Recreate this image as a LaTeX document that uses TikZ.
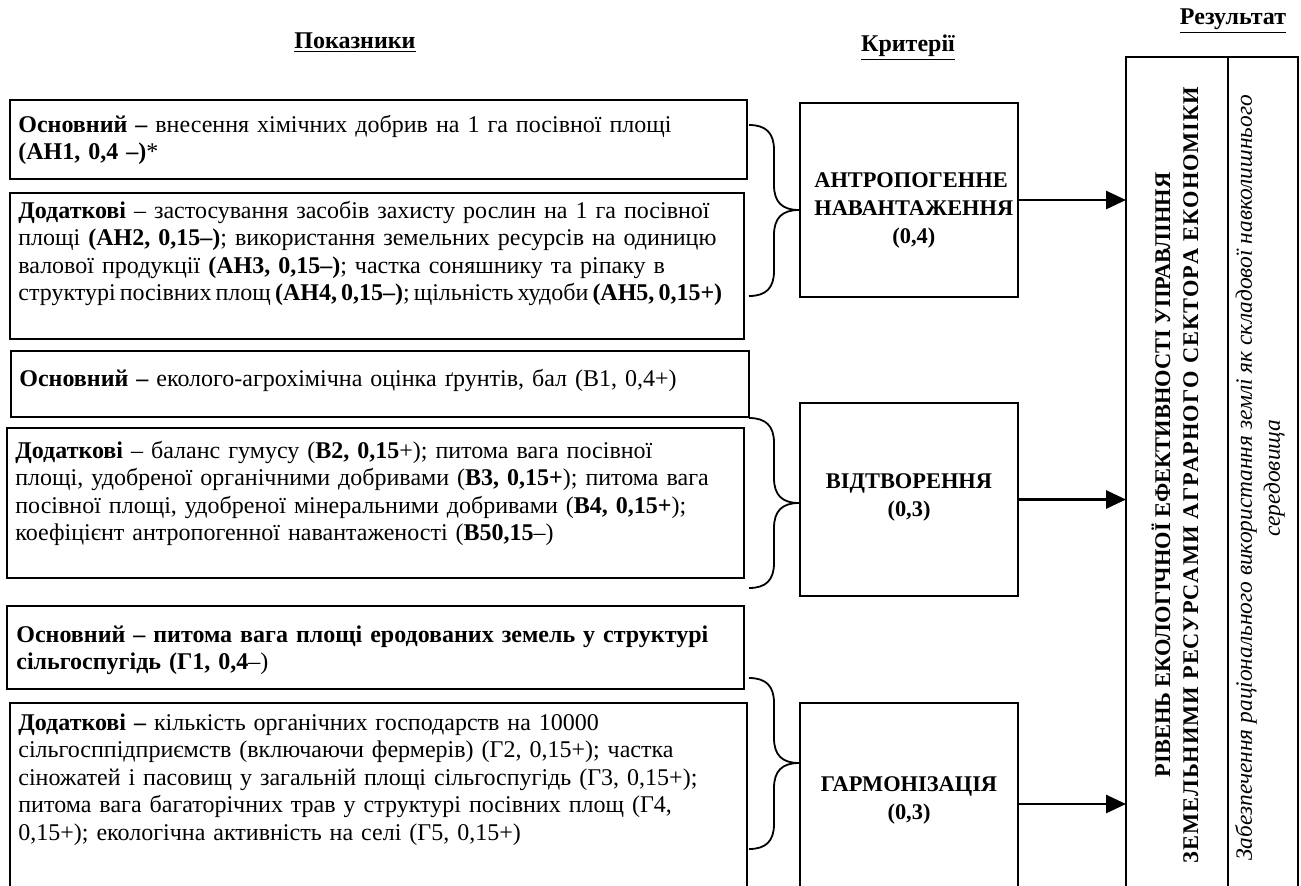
\documentclass[tikz,border=0pt]{standalone}
\usepackage{fontspec}
\setmainfont{Liberation Serif}
\usetikzlibrary{arrows.meta,calc}
\begin{document}
\begin{tikzpicture}[x=0.5pt,y=-0.5pt,
  box/.style={draw, line width=0.8pt, inner sep=0pt, outer sep=0pt, anchor=north west},
  txt/.style={anchor=base west, inner sep=0pt, align=left, text width=370pt, font=\fontsize{12}{13.75}\selectfont},
  crit/.style={draw, line width=0.8pt, inner sep=0pt, outer sep=0pt, anchor=north west, minimum width=109pt},
  critlbl/.style={inner sep=0pt, align=center, font=\fontsize{11.2}{14}\selectfont\bfseries},
  hdr/.style={anchor=base, inner sep=0pt, font=\fontsize{12}{14}\selectfont\bfseries},
  brc/.style={line width=0.9pt},
  arr/.style={line width=1.4pt, -{Triangle[length=10pt,width=9pt]}},
  vtxt/.style={rotate=90, inner sep=0pt, align=center, font=\fontsize{12}{14}\selectfont}
]
\useasboundingbox (0,0) rectangle (1301,885);
\clip (0,0) rectangle (1301,885);

% headers
\node[hdr] (h1) at (355,48) {\underline{Показники}};
\node[hdr] (h2) at (908,51) {\underline{Критерії}};
\node[hdr] (h3) at (1233,24) {\underline{Результат}};

% left boxes
\node[box, minimum width=368.5pt, minimum height=39.5pt] (a1) at (10,100) {};
\node[box, minimum width=367pt, minimum height=73pt] (a2) at (10,193) {};
\node[box, minimum width=369pt, minimum height=33pt] (b1) at (11,351) {};
\node[box, minimum width=368.5pt, minimum height=75pt] (b2) at (7,428) {};
\node[box, minimum width=368.5pt, minimum height=41.5pt] (g1) at (7,606) {};
\node[box, minimum width=368.5pt, minimum height=101pt] (g2) at (10,703) {};

\node[txt] (a1t) at (18,132) {\textbf{Основний –} внесення хімічних добрив на 1 га посівної площі\\
\textbf{(АН1, 0,4 –)}*};
\node[txt] (a2t) at (18,218) {\textbf{Додаткові} – застосування засобів захисту рослин на 1 га посівної\\
площі \textbf{(АН2, 0,15–)}; використання земельних ресурсів на одиницю\\
валової продукції \textbf{(АН3, 0,15–)}; частка соняшнику та ріпаку в\\
{\spaceskip=0.17em plus 0.1em minus 0.05em структурі посівних площ \textbf{(АН4, 0,15–)}; щільність худоби \textbf{(АН5, 0,15+)}}};
\node[txt] (b1t) at (19,386) {\textbf{Основний –} еколого-агрохімічна оцінка ґрунтів, бал (В1, 0,4+)};
\node[txt] (b2t) at (15,458) {\textbf{Додаткові} – баланс гумусу (\textbf{В2, 0,15}+); питома вага посівної\\
площі, удобреної органічними добривами (\textbf{В3, 0,15+}); питома вага\\
посівної площі, удобреної мінеральними добривами (\textbf{В4, 0,15+});\\
коефіцієнт антропогенної навантаженості (\textbf{В50,15}–)};
\node[txt] (g1t) at (16,642) {\textbf{Основний – питома вага площі еродованих земель у структурі}\\
\textbf{сільгоспугідь (Г1, 0,4}–)};
\node[txt] (g2t) at (18,730) {\textbf{Додаткові –} кількість органічних господарств на 10000\\
сільгосппідприємств (включаючи фермерів) (Г2, 0,15+); частка\\
сіножатей і пасовищ у загальній площі сільгоспугідь (Г3, 0,15+);\\
питома вага багаторічних трав у структурі посівних площ (Г4,\\
0,15+); екологічна активність на селі (Г5, 0,15+)};

% criteria boxes
\node[crit, minimum height=97pt] (ca) at (800,103) {};
\node[crit, minimum height=96.5pt] (cb) at (800,403) {};
\node[crit, minimum height=101pt] (cg) at (800,703) {};
\node[critlbl] (cat) at (911,210) {АНТРОПОГЕННЕ\\ \ НАВАНТАЖЕННЯ\\ \ (0,4)};
\node[critlbl] (cbt) at (909,497) {ВІДТВОРЕННЯ\\ (0,3)};
\node[critlbl] (cgt) at (909,800) {ГАРМОНІЗАЦІЯ\\ (0,3)};

% result box
\node[box, minimum width=51pt, minimum height=418pt] (resl) at (1126,57) {};
\node[box, minimum width=35pt, minimum height=418pt] (resr) at (1228,57) {};
\node[vtxt, font=\fontsize{11.2}{14}\selectfont\bfseries] (rest) at (1175,475)
  {\makebox[0pt]{РІВЕНЬ ЕКОЛОГІЧНОЇ ЕФЕКТИВНОСТІ УПРАВЛІННЯ}\\
   \makebox[388pt][s]{З\hfill Е\hfill М\hfill Е\hfill Л\hfill Ь\hfill Н\hfill И\hfill М\hfill И\hfill\ \hfill Р\hfill Е\hfill С\hfill У\hfill Р\hfill С\hfill А\hfill М\hfill И\hfill\ \hfill А\hfill Г\hfill Р\hfill А\hfill Р\hfill Н\hfill О\hfill Г\hfill О\hfill\ \hfill С\hfill Е\hfill К\hfill Т\hfill О\hfill Р\hfill А\hfill\ \hfill Е\hfill К\hfill О\hfill Н\hfill О\hfill М\hfill І\hfill К\hfill И}};
\node[vtxt, font=\fontsize{11.7}{14}\selectfont\itshape] (resrt) at (1260,478)
  {Забезпечення раціонального використання землі як складової навколишнього\\ середовища};

% braces
\newcommand\mybrace[3]{%
  \draw[brc] (749,#1) .. controls (766,#1) and (774,#1+8) .. (774,#1+25)
    -- (774,#2-25) .. controls (774,#2-8) and (782,#2) .. (799,#2)
    .. controls (782,#2) and (774,#2+8) .. (774,#2+25)
    -- (774,#3-25) .. controls (774,#3-8) and (766,#3) .. (749,#3);}
\mybrace{125}{210}{296}
\mybrace{418}{503}{588}
\mybrace{678}{763}{849}

% arrows
\draw[arr] (ca.east) -- (ca.east -| resl.west);
\draw[arr] (cb.east) -- (cb.east -| resl.west);
\draw[arr] (cg.east) -- (cg.east -| resl.west);
\end{tikzpicture}
\end{document}
